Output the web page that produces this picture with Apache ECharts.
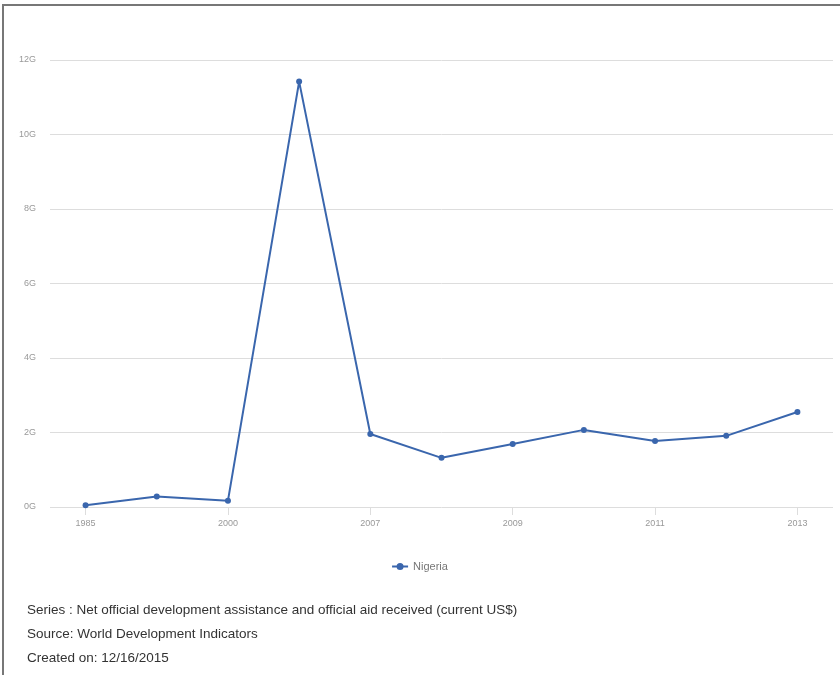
<!DOCTYPE html>
<html>
<head>
<meta charset="utf-8">
<script src="https://cdn.jsdelivr.net/npm/echarts@6/dist/echarts.min.js"></script>
<style>
html,body{margin:0;padding:0;background:#fff;}
#frame{position:absolute;left:2px;top:4px;width:840px;height:675px;border-left:2px solid #777;border-top:2px solid #777;}
#chart{position:absolute;left:0;top:0;width:840px;height:675px;}
</style>
</head>
<body>
<div id="frame"></div>
<div id="chart"></div>
<script>
const years = ['1985','1990','2000','2006','2007','2008','2009','2010','2011','2012','2013'];
const nigeria = [0.05, 0.28, 0.17, 11.42, 1.96, 1.32, 1.69, 2.07, 1.77, 1.91, 2.55];
const yTicks = [0, 2, 4, 6, 8, 10, 12];
const seriesName = 'Nigeria';
const footer = [
  'Series : Net official development assistance and official aid received (current US$)',
  'Source: World Development Indicators',
  'Created on: 12/16/2015'
];

const chart = echarts.init(document.getElementById('chart'), null, {renderer:'canvas'});
chart.setOption({
  backgroundColor: 'transparent',
  animation: false,
  grid: {left: 50, right: 7, top: 60, bottom: 168, containLabel: false},
  legend: {
    data: [seriesName], left: 'center', top: 556,
    itemWidth: 16, itemHeight: 7, itemGap: 6,
    icon: 'path://M0,2.5 L16,2.5 L16,4.5 L0,4.5 Z M4.5,3.5 A3.5,3.5 0 1,1 11.5,3.5 A3.5,3.5 0 1,1 4.5,3.5 Z',
    textStyle: {color: '#777', fontSize: 11, fontFamily: 'Liberation Sans, Arial, sans-serif'}
  },
  xAxis: {
    type: 'category', data: years, boundaryGap: true,
    axisLine: {show: false},
    axisTick: {show: true, interval: 1, alignWithLabel: true, length: 8, lineStyle: {color: '#ddd'}},
    axisLabel: {interval: 1, color: '#999', fontSize: 9, margin: 12, fontFamily: 'Liberation Sans, Arial, sans-serif'}
  },
  yAxis: {
    type: 'value', min: 0, max: 12, interval: 2,
    axisLine: {show: false}, axisTick: {show: false},
    axisLabel: {formatter: v => yTicks.includes(v) ? v + 'G' : '', color: '#999', fontSize: 9, margin: 14,
      padding: [3, 0, 0, 0], fontFamily: 'Liberation Sans, Arial, sans-serif'},
    splitLine: {lineStyle: {color: '#ddd', width: 1}}
  },
  series: [{
    name: seriesName, type: 'line', data: nigeria,
    symbol: 'circle', symbolSize: 6,
    lineStyle: {color: '#3a66ad', width: 2},
    itemStyle: {color: '#3a66ad'}
  }],
  graphic: footer.map((t, i) => ({
    type: 'text', left: 27, top: 603 + i * 24,
    style: {text: t, fill: '#333', font: '13.5px "Liberation Sans", Arial, sans-serif'}
  }))
});
</script>
</body>
</html>
